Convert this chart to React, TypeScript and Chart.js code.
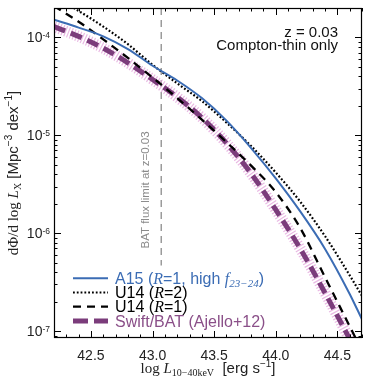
import React, { useEffect, useRef } from "react";
import { Chart, registerables } from "chart.js";
Chart.register(...registerables);

// log10 of the 10–40 keV luminosity
const lumLog = [42.2, 42.4, 42.6, 42.8, 43.0, 43.2, 43.4, 43.6, 43.8, 44.0, 44.2, 44.4, 44.6, 44.7];
// log10 of dPhi/dlogL [Mpc^-3 dex^-1]
const a15Log = [-3.82, -3.9, -3.99, -4.12, -4.29, -4.44, -4.62, -4.85, -5.13, -5.44, -5.78, -6.16, -6.62, -6.88];
const u14R2Log = [-3.58, -3.73, -3.89, -4.07, -4.28, -4.47, -4.65, -4.87, -5.11, -5.38, -5.68, -6.03, -6.43, -6.64];
const u14R1Log = [-3.68, -3.84, -4.02, -4.21, -4.41, -4.62, -4.84, -5.07, -5.31, -5.58, -5.95, -6.45, -6.95, -7.2];
const ajelloLog = [-3.89, -3.99, -4.11, -4.26, -4.43, -4.61, -4.82, -5.08, -5.39, -5.76, -6.16, -6.61, -7.08, -7.32];

const batLimit = 43.07;
const batLineTopLog = -3.7;
const batLineBottomLog = -6.33;

const xMin = 42.2;
const xMax = 44.7;
const yMinLog = -7.07;
const yMaxLog = -3.7;

const xMajorTicks = [42.5, 43.0, 43.5, 44.0, 44.5];
const yMajorExps = [-4, -5, -6, -7];

const annotationLines = ["z = 0.03", "Compton-thin only"];
const batText = "BAT flux limit at z=0.03";

const BLUE = "#3b6cb4";
const PURPLE = "#7b3c7b";
const PURPLE_TEXT = "#8a4f88";
const PINK = "rgba(228,168,220,0.8)";

const SANS = '"Liberation Sans", Arial, sans-serif';
const SERIF = '"Liberation Serif", "DejaVu Serif", serif';

type Seg = { t: string; f: string; dy?: number; c?: string };

const legendRows: { segs: Seg[]; color: string; width: number; dash: number[] }[] = [
  {
    color: BLUE,
    width: 2,
    dash: [],
    segs: [
      { t: "A15 (", f: `16px ${SANS}` },
      { t: "R", f: `italic 16px ${SERIF}` },
      { t: "=1, high ", f: `16px ${SANS}` },
      { t: "f", f: `italic 16px ${SERIF}` },
      { t: "23−24", f: `italic 11px ${SERIF}`, dy: 3 },
      { t: ")", f: `16px ${SANS}` },
    ],
  },
  {
    color: "#000",
    width: 2.2,
    dash: [1.8, 2],
    segs: [
      { t: "U14 (", f: `16px ${SANS}` },
      { t: "R", f: `italic 16px ${SERIF}` },
      { t: "=2)", f: `16px ${SANS}` },
    ],
  },
  {
    color: "#000",
    width: 2.3,
    dash: [8, 6],
    segs: [
      { t: "U14 (", f: `16px ${SANS}` },
      { t: "R", f: `italic 16px ${SERIF}` },
      { t: "=1)", f: `16px ${SANS}` },
    ],
  },
  {
    color: PURPLE,
    width: 5,
    dash: [15, 6],
    segs: [{ t: "Swift/BAT (Ajello+12)", f: `16px ${SANS}` }],
  },
];
const legendTextColors = [BLUE, "#000", "#000", PURPLE_TEXT];

function toPoints(ys: number[]) {
  return lumLog.map((x, i) => ({ x, y: Math.pow(10, ys[i]) }));
}

function drawRich(ctx: CanvasRenderingContext2D, segs: Seg[], x: number, y: number, align: "left" | "center" | "right") {
  ctx.textAlign = "left";
  ctx.textBaseline = "alphabetic";
  let w = 0;
  for (const s of segs) {
    ctx.font = s.f;
    w += ctx.measureText(s.t).width;
  }
  let cx = align === "center" ? x - w / 2 : align === "right" ? x - w : x;
  for (const s of segs) {
    ctx.font = s.f;
    if (s.c) ctx.fillStyle = s.c;
    ctx.fillText(s.t, cx, y + (s.dy || 0));
    cx += ctx.measureText(s.t).width;
  }
}

const decorPlugin = {
  id: "decor",
  afterDraw(chart: any) {
    const ctx: CanvasRenderingContext2D = chart.ctx;
    const a = chart.chartArea;
    const xs = chart.scales.x;
    const ys = chart.scales.y;
    ctx.save();

    // frame
    ctx.strokeStyle = "#000";
    ctx.lineWidth = 1.2;
    ctx.setLineDash([]);
    ctx.strokeRect(a.left + 0.5, a.top + 0.5, a.right - a.left - 1, a.bottom - a.top - 1);

    // x ticks (inward, top & bottom)
    ctx.lineWidth = 1;
    ctx.beginPath();
    for (let k = Math.ceil(xMin * 10); k <= Math.floor(xMax * 10); k++) {
      const v = k / 10;
      const major = xMajorTicks.some((m) => Math.abs(m - v) < 1e-6);
      const len = major ? 7 : 3.5;
      const px = Math.round(xs.getPixelForValue(v)) + 0.5;
      ctx.moveTo(px, a.bottom);
      ctx.lineTo(px, a.bottom - len);
      ctx.moveTo(px, a.top);
      ctx.lineTo(px, a.top + len);
    }
    // y ticks (inward, left & right)
    for (let e = Math.floor(yMinLog); e <= Math.ceil(yMaxLog); e++) {
      for (let m = 1; m <= 9; m++) {
        const lv = e + Math.log10(m);
        if (lv < yMinLog || lv > yMaxLog) continue;
        const len = m === 1 ? 7 : 3.5;
        const py = Math.round(ys.getPixelForValue(m * Math.pow(10, e))) + 0.5;
        ctx.moveTo(a.left, py);
        ctx.lineTo(a.left + len, py);
        ctx.moveTo(a.right, py);
        ctx.lineTo(a.right - len, py);
      }
    }
    ctx.stroke();

    // x tick labels
    ctx.fillStyle = "#222";
    ctx.font = `14px ${SANS}`;
    ctx.textAlign = "center";
    ctx.textBaseline = "alphabetic";
    for (const v of xMajorTicks) {
      ctx.fillText(v.toFixed(1), xs.getPixelForValue(v), a.bottom + 22);
    }
    // y tick labels
    for (const e of yMajorExps) {
      const py = ys.getPixelForValue(Math.pow(10, e));
      ctx.textAlign = "right";
      ctx.font = `8.5px ${SANS}`;
      const exp = "-" + Math.abs(e);
      const ew = ctx.measureText(exp).width;
      ctx.fillText(exp, a.left - 4, py + 1);
      ctx.font = `14px ${SANS}`;
      ctx.fillText("10", a.left - 4 - ew, py + 5);
    }

    // axis titles
    ctx.fillStyle = "#222";
    drawRich(
      ctx,
      [
        { t: "log ", f: `15px ${SERIF}` },
        { t: "L", f: `italic 15px ${SERIF}` },
        { t: "10−40keV", f: `10px ${SERIF}`, dy: 3 },
        { t: "  [erg s", f: `15px ${SANS}` },
        { t: "−1", f: `10px ${SANS}`, dy: -6 },
        { t: "]", f: `15px ${SANS}` },
      ],
      (a.left + a.right) / 2,
      a.bottom + 35,
      "center"
    );
    ctx.save();
    ctx.translate(13, (a.top + a.bottom) / 2);
    ctx.rotate(-Math.PI / 2);
    drawRich(
      ctx,
      [
        { t: "dΦ/d log ", f: `15px ${SERIF}` },
        { t: "L", f: `italic 15px ${SERIF}` },
        { t: "X", f: `10px ${SERIF}`, dy: 3 },
        { t: " [Mpc", f: `15px ${SANS}` },
        { t: "−3", f: `10px ${SANS}`, dy: -6 },
        { t: " dex", f: `15px ${SANS}` },
        { t: "−1", f: `10px ${SANS}`, dy: -6 },
        { t: "]", f: `15px ${SANS}` },
      ],
      0,
      5,
      "center"
    );
    ctx.restore();

    // annotation
    ctx.fillStyle = "#111";
    ctx.font = `15px ${SANS}`;
    ctx.textAlign = "right";
    ctx.fillText(annotationLines[0], a.right - 24, a.top + 29);
    ctx.fillText(annotationLines[1], a.right - 24, a.top + 42);

    // BAT limit label
    ctx.save();
    ctx.translate(xs.getPixelForValue(batLimit) - 15, 190);
    ctx.rotate(-Math.PI / 2);
    ctx.fillStyle = "#8a8a8a";
    ctx.font = `11.5px ${SANS}`;
    ctx.textAlign = "center";
    ctx.textBaseline = "middle";
    ctx.fillText(batText, 0, 0);
    ctx.restore();

    // legend
    const lx0 = a.left + 19;
    const lx1 = a.left + 54;
    const tx = a.left + 61;
    legendRows.forEach((row, i) => {
      const cy = a.bottom - 59.7 + i * 14.2;
      ctx.beginPath();
      ctx.strokeStyle = row.color;
      ctx.lineWidth = row.width;
      ctx.setLineDash(row.dash);
      ctx.lineCap = "butt";
      ctx.moveTo(lx0, cy);
      ctx.lineTo(lx1, cy);
      ctx.stroke();
      ctx.setLineDash([]);
      ctx.fillStyle = legendTextColors[i];
      drawRich(ctx, row.segs, tx, cy + 5.6, "left");
    });

    ctx.restore();
  },
};

export default function App() {
  const ref = useRef<HTMLCanvasElement>(null);
  useEffect(() => {
    document.body.style.margin = "0";
    const chart = new Chart(ref.current!, {
      type: "line",
      data: {
        datasets: [
          {
            label: "A15 (R=1, high f23-24)",
            data: toPoints(a15Log),
            borderColor: BLUE,
            borderWidth: 2,
            cubicInterpolationMode: "monotone",
            pointRadius: 0,
            clip: 0,
          },
          {
            label: "U14 (R=2)",
            data: toPoints(u14R2Log),
            borderColor: "#000",
            borderWidth: 2.2,
            borderDash: [1.8, 2],
            cubicInterpolationMode: "monotone",
            pointRadius: 0,
            clip: 0,
          },
          {
            label: "U14 (R=1)",
            data: toPoints(u14R1Log),
            borderColor: "#000",
            borderWidth: 2.3,
            borderDash: [8, 6],
            cubicInterpolationMode: "monotone",
            pointRadius: 0,
            clip: 0,
          },
          {
            label: "Swift/BAT (Ajello+12)",
            data: toPoints(ajelloLog),
            borderColor: PURPLE,
            borderWidth: 5,
            borderDash: [12, 6],
            cubicInterpolationMode: "monotone",
            pointRadius: 0,
            clip: 0,
          },
          {
            label: "Swift/BAT band",
            data: toPoints(ajelloLog),
            borderColor: PINK,
            borderWidth: 11,
            borderDash: [1.2, 1.8],
            borderCapStyle: "butt",
            cubicInterpolationMode: "monotone",
            pointRadius: 0,
            clip: 0,
          },
          {
            label: "BAT limit",
            data: [
              { x: batLimit, y: Math.pow(10, batLineTopLog) },
              { x: batLimit, y: Math.pow(10, batLineBottomLog) },
            ],
            borderColor: "#777",
            borderWidth: 1.1,
            borderDash: [7, 5],
            pointRadius: 0,
            clip: 0,
          },
        ] as any,
      },
      options: {
        responsive: false,
        animation: false,
        devicePixelRatio: 1,
        layout: { padding: { left: 54, right: 5, top: 8, bottom: 41 } },
        scales: {
          x: { type: "linear", min: xMin, max: xMax, display: false },
          y: { type: "logarithmic", min: Math.pow(10, yMinLog), max: Math.pow(10, yMaxLog), display: false },
        },
        plugins: { legend: { display: false }, tooltip: { enabled: false } },
      } as any,
      plugins: [decorPlugin],
    });
    return () => chart.destroy();
  }, []);
  return <canvas ref={ref} width={367} height={379} style={{ display: "block" }} />;
}
